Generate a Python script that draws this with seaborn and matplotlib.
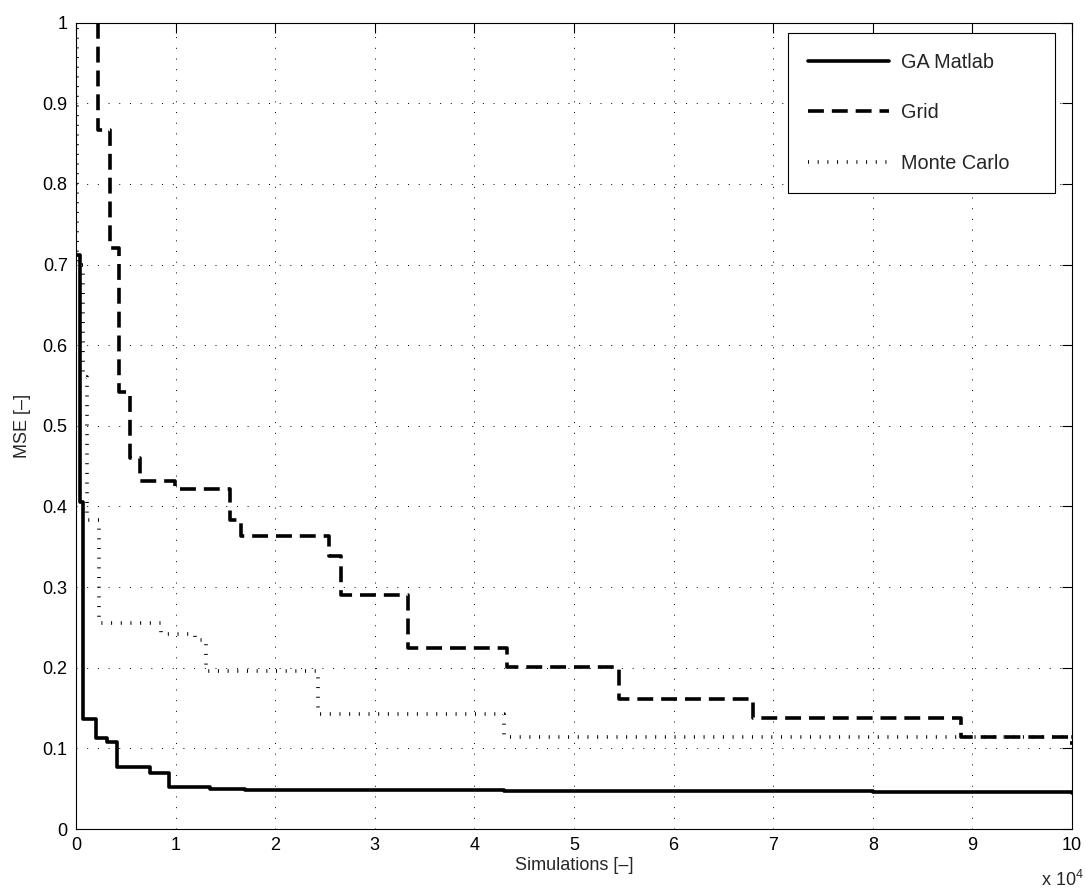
import numpy as np
import pandas as pd
import matplotlib
matplotlib.use("Agg")
import matplotlib.pyplot as plt
import seaborn as sns

# ---- data (x in units of 1e4 simulations) ----
ga_x = [0.0, 0.04, 0.067, 0.2, 0.31, 0.41, 0.74, 0.93, 1.35, 1.7, 4.3, 8.0, 10.0]
ga_y = [0.712, 0.405, 0.136, 0.113, 0.108, 0.077, 0.069, 0.052, 0.050, 0.048, 0.047, 0.046, 0.045]

grid_x = [0.0, 0.22, 0.34, 0.435, 0.54, 0.64, 0.99, 1.546, 1.657, 2.54, 2.66, 3.336, 4.33, 5.45, 6.8, 8.89, 9.98, 10.0]
grid_y = [1.2, 0.867, 0.72, 0.5425, 0.460, 0.432, 0.422, 0.383, 0.363, 0.339, 0.290, 0.2245, 0.201, 0.161, 0.138, 0.114, 0.107, 0.107]

mc_x = [0.0, 0.01, 0.07, 0.107, 0.23, 0.85, 1.19, 1.31, 2.43, 4.3, 10.0]
mc_y = [1.2, 0.70, 0.56, 0.383, 0.256, 0.242, 0.234, 0.196, 0.143, 0.114, 0.114]

series_names = ["GA Matlab", "Grid", "Monte Carlo"]
x_ticks = list(range(0, 11))
y_ticks = [0, 0.1, 0.2, 0.3, 0.4, 0.5, 0.6, 0.7, 0.8, 0.9, 1]
y_tick_labels = ["0", "0.1", "0.2", "0.3", "0.4", "0.5", "0.6", "0.7", "0.8", "0.9", "1"]

sns.set_style("white")
plt.rcParams["font.family"] = ["Liberation Sans", "DejaVu Sans"]
plt.rcParams["mathtext.fontset"] = "custom"
plt.rcParams["mathtext.rm"] = "Liberation Sans"

fs = 13
fig = plt.figure(figsize=(10.86, 8.91), dpi=100)
ax = fig.add_axes([76 / 1086, 1 - 829 / 891, (1072 - 76) / 1086, (829 - 22.7) / 891])

df_ga = pd.DataFrame({"x": ga_x, "y": ga_y})
df_grid = pd.DataFrame({"x": grid_x, "y": grid_y})
df_mc = pd.DataFrame({"x": mc_x, "y": mc_y})

lw = 2.6
sns.lineplot(data=df_ga, x="x", y="y", ax=ax, estimator=None, sort=False,
             drawstyle="steps-post", color="black", linewidth=lw, label=series_names[0])
sns.lineplot(data=df_grid, x="x", y="y", ax=ax, estimator=None, sort=False,
             drawstyle="steps-post", color="black", linewidth=lw, label=series_names[1])
sns.lineplot(data=df_mc, x="x", y="y", ax=ax, estimator=None, sort=False,
             drawstyle="steps-post", color="black", linewidth=lw, label=series_names[2])

lines = ax.get_lines()
lines[1].set_dashes((4.4, 2.2))
lines[2].set_dashes((0.28, 2.4))
for ln in lines:
    ln.set_dash_capstyle("butt")

ax.set_xlim(0, 10)
ax.set_ylim(0, 1)
ax.set_xticks(x_ticks)
ax.set_xticklabels([str(t) for t in x_ticks])
ax.set_yticks(y_ticks)
ax.set_yticklabels(y_tick_labels)
ax.tick_params(direction="in", top=True, right=True, length=7, width=0.8,
               labelsize=fs, colors="black", pad=6)
for s in ax.spines.values():
    s.set_visible(True)
    s.set_color("black")
    s.set_linewidth(0.8)

ax.grid(True, color="black", linewidth=0.7, linestyle=(0, (1, 10)))
ax.set_axisbelow(True)

ax.set_xlabel("Simulations [–]", fontsize=fs, labelpad=2)
ax.set_ylabel("MSE [–]", fontsize=fs, labelpad=8)

fig.text(1062 / 1086, 1 - 880 / 891, r"x 10$^{4}$", fontsize=fs, ha="center", va="center")

leg = ax.legend(loc="upper left", bbox_to_anchor=(0.715, 0.7, 0.268, 0.2876),
                mode="expand", borderaxespad=0,
                fontsize=14.3, handlelength=4.1, labelspacing=1.6, borderpad=1.0,
                handletextpad=0.6, fancybox=False, frameon=True, framealpha=1,
                edgecolor="black")
leg.get_frame().set_linewidth(0.8)

fig.savefig("out.png", dpi=100, facecolor="white")
